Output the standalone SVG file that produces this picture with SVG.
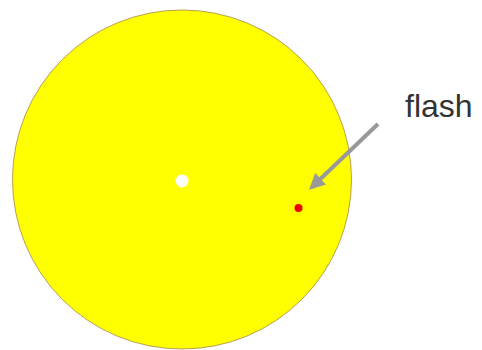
<svg xmlns="http://www.w3.org/2000/svg" width="482" height="350" viewBox="0 0 482 350">
<defs>
<style>
.lbl{font-family:"Liberation Sans",Arial,sans-serif;font-size:32px;fill:#333333}
</style>
<marker id="ah" markerWidth="4" markerHeight="4" refX="3" refY="2" orient="auto" markerUnits="strokeWidth">
<path d="M0,0 L4,2 L0,4 Z" fill="#999999"/>
</marker>
</defs>
<rect width="482" height="350" fill="#ffffff"/>
<g id="disc">
<circle cx="182" cy="179.5" r="169.5" fill="#ffff00" stroke="#b8a050" stroke-width="1"/>
</g>
<g id="center">
<circle cx="182" cy="181" r="6.5" fill="#ffffff"/>
</g>
<g id="flash">
<circle cx="298.5" cy="208" r="4" fill="#ee0000"/>
</g>
<g id="label">
<text class="lbl" x="405" y="117">flash</text>
</g>
<g id="connectors">
<line x1="378" y1="124" x2="312" y2="187" stroke="#999999" stroke-width="4" marker-end="url(#ah)"/>
</g>
</svg>
